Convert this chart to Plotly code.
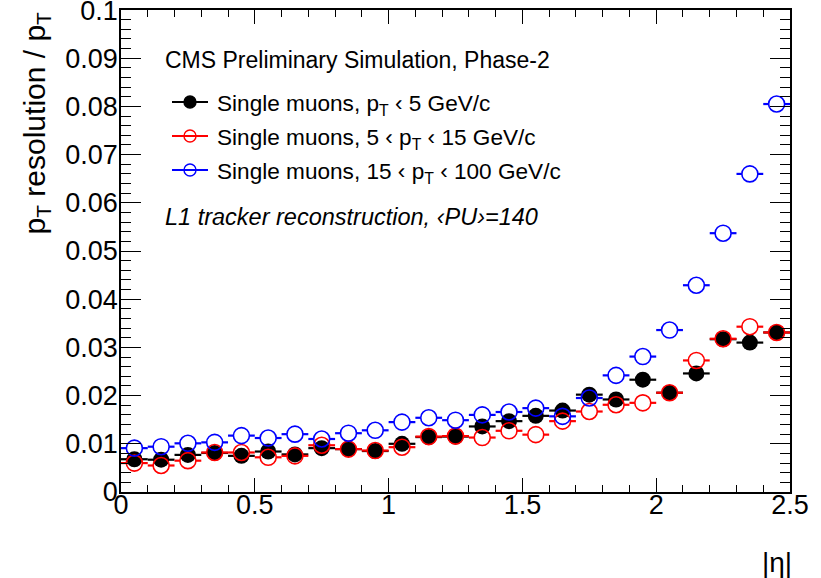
import plotly.graph_objects as go

# ---------------- data ----------------
eta_centers = [0.05, 0.15, 0.25, 0.35, 0.45, 0.55, 0.65, 0.75, 0.85, 0.95,
               1.05, 1.15, 1.25, 1.35, 1.45, 1.55, 1.65, 1.75, 1.85, 1.95,
               2.05, 2.15, 2.25, 2.35, 2.45]
eta_halfwidth = [0.05] * 25

res_low = [0.0068, 0.0067, 0.0077, 0.0081, 0.0075, 0.0084, 0.0078, 0.0091, 0.0089, 0.0085,
           0.0100, 0.0114, 0.0115, 0.0136, 0.0147, 0.0158, 0.0169, 0.0202, 0.0192, 0.0233,
           0.0206, 0.0246, 0.0317, 0.0310, 0.0331]
err_low = [0.0002] * 20 + [0.0005, 0.0005, 0.0010, 0.0008, 0.0016]

res_mid = [0.0060, 0.0055, 0.0065, 0.0082, 0.0082, 0.0072, 0.0075, 0.0097, 0.0089, 0.0086,
           0.0093, 0.0115, 0.0116, 0.0113, 0.0127, 0.0119, 0.0147, 0.0167, 0.0181, 0.0185,
           0.0206, 0.0273, 0.0318, 0.0343, 0.0331]
err_mid = [0.0002] * 20 + [0.0003, 0.0004, 0.0005, 0.0005, 0.0006]

res_high = [0.0091, 0.0094, 0.0101, 0.0103, 0.0117, 0.0112, 0.0120, 0.0110, 0.0122, 0.0128,
            0.0145, 0.0154, 0.0149, 0.0160, 0.0166, 0.0174, 0.0157, 0.0195, 0.0242, 0.0281,
            0.0336, 0.0429, 0.0537, 0.0660, 0.0805]
err_high = [0.0002] * 20 + [0.0003, 0.0003, 0.0004, 0.0004, 0.0005]

series_names = ["Single muons, p<sub>T</sub> ‹ 5 GeV/c",
                "Single muons, 5 ‹ p<sub>T</sub> ‹ 15 GeV/c",
                "Single muons, 15 ‹ p<sub>T</sub> ‹ 100 GeV/c"]

x_ticks = [0, 0.5, 1, 1.5, 2, 2.5]
x_ticklabels = ["0", "0.5", "1", "1.5", "2", "2.5"]
y_ticks = [0, 0.01, 0.02, 0.03, 0.04, 0.05, 0.06, 0.07, 0.08, 0.09, 0.1]
y_ticklabels = ["0", "0.01", "0.02", "0.03", "0.04", "0.05", "0.06", "0.07", "0.08", "0.09", "0.1"]

# ---------------- layout constants ----------------
W, H = 821, 578
L, R, T, B = 121, 790, 10, 492
FONT = "Liberation Sans, Arial, Helvetica, sans-serif"
colors = ["black", "red", "blue"]

def px(x):
    return (x - L) / (R - L)

def py(y):
    return (B - y) / (B - T)

fig = go.Figure()

series = [(res_low, err_low), (res_mid, err_mid), (res_high, err_high)]

# 1. error bars only
for (vals, errs), c in zip(series, colors):
    fig.add_trace(go.Scatter(
        x=eta_centers, y=vals, mode="markers",
        marker=dict(size=16, color="rgba(0,0,0,0)"),
        error_x=dict(type="data", array=eta_halfwidth, visible=True, color=c, thickness=2.2, width=0),
        error_y=dict(type="data", array=errs, visible=True, color=c, thickness=2.2, width=0),
        showlegend=False, hoverinfo="skip"))

# 2. white interiors for open markers
for vals in (res_mid, res_high):
    fig.add_trace(go.Scatter(
        x=eta_centers, y=vals, mode="markers",
        marker=dict(size=16, color="white", line=dict(width=0)),
        showlegend=False, hoverinfo="skip"))

# 3. filled black markers
fig.add_trace(go.Scatter(
    x=eta_centers, y=res_low, mode="markers",
    marker=dict(size=16, color="black", symbol="circle", line=dict(width=0)),
    showlegend=False))

# 4. open marker outlines
for vals, c in ((res_mid, "red"), (res_high, "blue")):
    fig.add_trace(go.Scatter(
        x=eta_centers, y=vals, mode="markers",
        marker=dict(size=16, color=c, symbol="circle-open", line=dict(width=1.6, color=c)),
        showlegend=False))

# ---------------- legend (drawn by hand on overlay axes) ----------------
leg_y = [102, 136, 170]
for yy, c, name, filled in zip(leg_y, colors, series_names, [True, False, False]):
    fig.add_shape(type="line", xref="paper", yref="paper",
                  x0=px(172), x1=px(208), y0=py(yy), y1=py(yy),
                  line=dict(color=c, width=2.2))
    fig.add_trace(go.Scatter(
        x=[px(190)], y=[py(yy)], xaxis="x2", yaxis="y2", mode="markers",
        marker=dict(size=12, color=c if filled else "white",
                    line=dict(width=1.4, color=c)),
        showlegend=False, hoverinfo="skip"))
    fig.add_annotation(x=px(215), y=py(yy + 3), xref="paper", yref="paper",
                       text=name, showarrow=False, xanchor="left", yanchor="middle",
                       font=dict(family=FONT, size=22.6, color="black"))

fig.add_annotation(x=px(163), y=py(60), xref="paper", yref="paper",
                   text="CMS Preliminary Simulation, Phase-2", showarrow=False,
                   xanchor="left", yanchor="middle",
                   font=dict(family=FONT, size=23, color="black"))
fig.add_annotation(x=px(163), y=py(217), xref="paper", yref="paper",
                   text="<i>L1 tracker reconstruction, ‹PU›=140</i>", showarrow=False,
                   xanchor="left", yanchor="middle",
                   font=dict(family=FONT, size=23.5, color="black"))

# axis titles
fig.add_annotation(x=px(36), y=py(10), xref="paper", yref="paper",
                   text="p<sub>T</sub> resolution / p<sub>T</sub>", showarrow=False,
                   textangle=-90, xanchor="center", yanchor="top",
                   font=dict(family=FONT, size=30, color="black"))
fig.add_annotation(x=px(794), y=py(562), xref="paper", yref="paper",
                   text="|η|", showarrow=False, xanchor="right", yanchor="middle",
                   font=dict(family=FONT, size=28, color="black"))

axis_common = dict(showgrid=False, zeroline=False, showline=True, linecolor="black",
                   linewidth=1.5, mirror="ticks", ticks="inside", tickcolor="black",
                   tickwidth=1, ticklabeloverflow="allow", automargin=False,
                   tickfont=dict(family=FONT, size=27, color="black"))

fig.update_layout(
    width=W, height=H,
    margin=dict(l=L, r=W - R, t=T, b=H - B, autoexpand=False),
    paper_bgcolor="white", plot_bgcolor="white",
    showlegend=False,
    xaxis=dict(range=[0, 2.5], tickvals=x_ticks, ticktext=x_ticklabels, ticklen=14,
               ticklabelstandoff=-12,
               minor=dict(dtick=0.1, ticks="inside", ticklen=7, tickcolor="black", tickwidth=1),
               **axis_common),
    yaxis=dict(range=[0, 0.10001], tickvals=y_ticks, ticktext=y_ticklabels, ticklen=20,
               ticklabelstandoff=-4,
               minor=dict(dtick=0.002, ticks="inside", ticklen=10, tickcolor="black", tickwidth=1),
               **axis_common),
    xaxis2=dict(range=[0, 1], overlaying="x", visible=False),
    yaxis2=dict(range=[0, 1], overlaying="y", visible=False),
)

fig.write_html("out.html")
